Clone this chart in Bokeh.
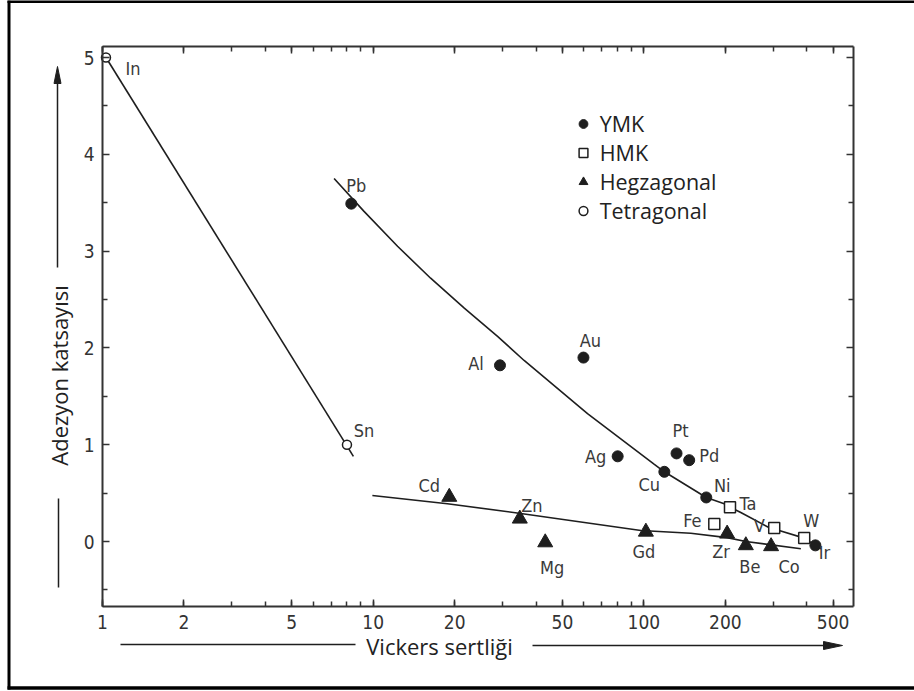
import math
from bokeh.plotting import figure
from bokeh.models import (ColumnDataSource, LogAxis, LinearAxis, FixedTicker, Range1d,
                          Legend, LegendItem)
from bokeh.core.properties import value
from bokeh.embed import file_html
from bokeh.resources import INLINE

# ---------------- data ----------------
fcc_names = ["Pb", "Al", "Au", "Ag", "Pt", "Pd", "Cu", "Ni", "Ir"]
fcc_hv = [8.3, 29.4, 59.8, 80, 132, 147, 119, 170, 430]
fcc_adh = [3.49, 1.82, 1.90, 0.88, 0.91, 0.84, 0.72, 0.455, -0.04]

bcc_names = ["Fe", "Ta", "V", "W"]
bcc_hv = [182, 208, 303, 391]
bcc_adh = [0.18, 0.355, 0.14, 0.035]

hex_names = ["Cd", "Zn", "Mg", "Gd", "Zr", "Be", "Co"]
hex_hv = [19.1, 34.8, 43.2, 101.7, 203, 238, 295]
hex_adh = [0.46, 0.235, -0.01, 0.10, 0.08, -0.04, -0.05]

tet_names = ["In", "Sn"]
tet_hv = [1.03, 8.0]
tet_adh = [5.0, 1.0]

# hand-drawn trend curves
tet_curve_hv = [1.03, 8.45]
tet_curve_adh = [5.0, 0.88]
fcc_curve_hv = [7.17, 9.25, 12.3, 16.3, 21.7, 28.8, 36.1, 61.9, 109, 119, 170, 198, 208, 228, 287, 303, 391, 430, 451]
fcc_curve_adh = [3.75, 3.41, 3.05, 2.72, 2.41, 2.12, 1.87, 1.32, 0.80, 0.72, 0.455, 0.39, 0.355, 0.30, 0.15, 0.13, 0.035, -0.04, -0.075]
hex_curve_hv = [9.93, 18.8, 35.1, 97.5, 149, 203, 238, 380]
hex_curve_adh = [0.475, 0.39, 0.29, 0.114, 0.085, 0.04, 0.0, -0.075]

series_labels = ["YMK", "HMK", "Hegzagonal", "Tetragonal"]
x_ticks = [1, 2, 5, 10, 20, 50, 100, 200, 500]
x_tick_labels = ["1", "2", "5", "10", "20", "50", "100", "200", "500"]
x_minor = [m * d for d in (1, 10, 100) for m in range(1, 10) if m * d <= 500]
y_ticks = [0, 1, 2, 3, 4, 5]
y_minor = [-0.5, 0.5, 1.5, 2.5, 3.5, 4.5]
y_title = "Adezyon katsayısı"
x_title = "Vickers sertliği"

# axis box limits
x_lo, x_hi = 1, 597
y_lo, y_hi = -0.6715, 5.114

# ---------------- layout / style ----------------
W, H = 914, 691
X0, DEC = 102, 270.7      # pixel of x=1, pixels per decade
Y0, YU = 541, 96.8        # pixel of y=0, pixels per unit


def xd(px):
    return 10 ** ((px - X0) / DEC)


def yd(py):
    return (Y0 - py) / YU


# label offsets in pixels (dx right, dy down)
fcc_lab_off = [(5, -18), (-24, -2), (7, -17), (-22, 0), (4, -23), (20, -5), (-15, 13), (16, -12), (9, 7)]
bcc_lab_off = [(-22, -4), (18, -4), (-15, -2), (7, -18)]
hex_lab_off = [(-20, -11), (12, -13), (7, 25), (-2, 20), (-6, 18), (4, 21), (18, 20)]
tet_lab_off = [(27, 11), (17, -14)]

INK = "#1e1e1e"
TICK_FONT = "DejaVu Sans Condensed"
LAB_FONT = "DejaVu Sans Condensed"
SANS = "Open Sans"

p = figure(x_axis_type="log", x_range=Range1d(xd(0), xd(W)), y_range=Range1d(yd(H), yd(0)),
           frame_width=W, frame_height=H,
           min_border_left=0, min_border_right=0, min_border_top=0, min_border_bottom=0,
           output_backend="svg", toolbar_location=None,
           background_fill_color="white", border_fill_color="white")
p.xgrid.visible = False
p.ygrid.visible = False
p.outline_line_color = None

xticker = FixedTicker(ticks=x_ticks, minor_ticks=x_minor)
yticker = FixedTicker(ticks=y_ticks, minor_ticks=y_minor)


def style_axis(ax, show_labels):
    ax.axis_line_color = "#333333"
    ax.axis_line_width = 2
    ax.major_tick_in = 7
    ax.major_tick_out = 0
    ax.minor_tick_in = 5
    ax.minor_tick_out = 0
    ax.major_tick_line_color = "#333333"
    ax.minor_tick_line_color = "#333333"
    ax.major_tick_line_width = 1.5
    ax.minor_tick_line_width = 1.5
    ax.major_label_text_font = TICK_FONT
    ax.major_label_text_font_size = "19px"
    ax.major_label_text_color = "#333333" if show_labels else None
    ax.major_label_standoff = 8


bx = p.xaxis[0]
bx.ticker = xticker
bx.major_label_overrides = dict(zip(x_ticks, x_tick_labels))
bx.fixed_location = y_lo
bx.bounds = (x_lo, x_hi)
style_axis(bx, True)

ly = p.yaxis[0]
ly.ticker = yticker
ly.fixed_location = x_lo
ly.bounds = (y_lo, y_hi)
style_axis(ly, True)

tx = LogAxis(ticker=xticker, fixed_location=y_hi, bounds=(x_lo, x_hi))
style_axis(tx, False)
p.add_layout(tx, "above")
ry = LinearAxis(ticker=yticker, fixed_location=x_hi, bounds=(y_lo, y_hi))
style_axis(ry, False)
p.add_layout(ry, "right")

# trend curves
p.line(tet_curve_hv, tet_curve_adh, line_color=INK, line_width=1.6)
p.line(fcc_curve_hv, fcc_curve_adh, line_color=INK, line_width=1.6)
p.line(hex_curve_hv, hex_curve_adh, line_color=INK, line_width=1.6)

# markers
r_fcc = p.scatter(fcc_hv, fcc_adh, marker="circle", size=11, fill_color=INK, line_color=INK)
r_bcc = p.scatter(bcc_hv, bcc_adh, marker="square", size=11, fill_color="white", line_color=INK, line_width=1.5)
r_hex = p.scatter(hex_hv, hex_adh, marker="triangle", size=15, fill_color=INK, line_color=INK)
r_tet = p.scatter(tet_hv, tet_adh, marker="circle", size=9, fill_color="white", line_color=INK, line_width=1.5)

# element labels
names = fcc_names + bcc_names + hex_names + tet_names
hvs = fcc_hv + bcc_hv + hex_hv + tet_hv
adhs = fcc_adh + bcc_adh + hex_adh + tet_adh
offs = fcc_lab_off + bcc_lab_off + hex_lab_off + tet_lab_off
lab_src = ColumnDataSource(dict(x=hvs, y=adhs, text=names,
                                dx=[o[0] for o in offs], dy=[o[1] for o in offs]))
p.text(x="x", y="y", text="text", source=lab_src, x_offset="dx", y_offset="dy",
       text_font=value(LAB_FONT), text_font_size="18px", text_color="#3a3a3a",
       text_align="center", text_baseline="middle")

# legend
legend = Legend(items=[LegendItem(label=series_labels[0], renderers=[r_fcc]),
                       LegendItem(label=series_labels[1], renderers=[r_bcc]),
                       LegendItem(label=series_labels[2], renderers=[r_hex]),
                       LegendItem(label=series_labels[3], renderers=[r_tet])],
                location=(571.7, 466.2), orientation="vertical",
                glyph_width=22, glyph_height=29, label_height=29, spacing=0,
                padding=0, margin=0, label_standoff=6,
                label_text_font=SANS, label_text_font_size="21.5px", label_text_color="#222222",
                border_line_color=None, background_fill_alpha=0)
p.add_layout(legend)

# axis titles
p.text(x=[xd(58)], y=[yd(375)], text=[y_title], angle=math.pi / 2,
       text_align="center", text_baseline="middle", text_font=value(SANS),
       text_font_size="22px", text_color="#222222")
p.text(x=[xd(439)], y=[yd(645)], text=[x_title],
       text_align="center", text_baseline="middle", text_font=value(SANS),
       text_font_size="22px", text_color="#222222")

# arrows beside the titles (pixel positions)
seg_px = [(57, 267, 57, 80), (58, 498, 58, 587), (120, 644, 355, 644), (532, 645, 824, 645)]
p.segment(x0=[xd(s[0]) for s in seg_px], y0=[yd(s[1]) for s in seg_px],
          x1=[xd(s[2]) for s in seg_px], y1=[yd(s[3]) for s in seg_px],
          line_color=INK, line_width=1.5)
heads_px = [[(57, 66), (53.5, 83), (60.5, 83)], [(842, 645), (823, 641), (823, 649)]]
p.patches(xs=[[xd(q[0]) for q in h] for h in heads_px], ys=[[yd(q[1]) for q in h] for h in heads_px],
          fill_color=INK, line_color=INK, line_width=1)

# outer frame of the picture (left, top, bottom)
border_px = [(8.5, 0, 8.5, 689, 3), (7, 1, W, 1, 3), (7, 687.5, W, 687.5, 3.5)]
p.segment(x0=[xd(b[0]) for b in border_px], y0=[yd(b[1]) for b in border_px],
          x1=[xd(b[2]) for b in border_px], y1=[yd(b[3]) for b in border_px],
          line_color="black", line_width=[b[4] for b in border_px])

open("out.html", "w").write(file_html(p, INLINE))
